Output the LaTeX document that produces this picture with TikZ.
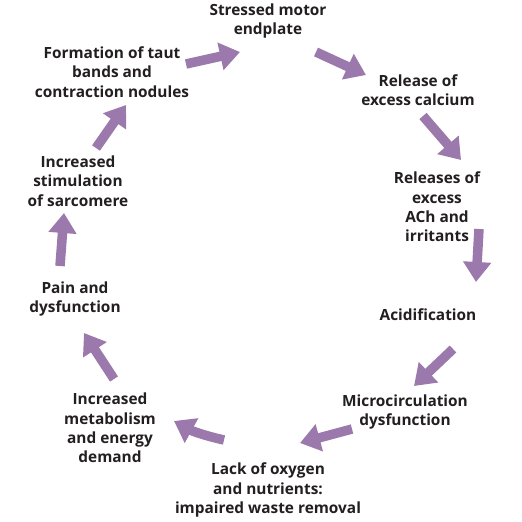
\documentclass[tikz,border=0pt]{standalone}
\usepackage{fontspec}
\setmainfont{Open Sans}
\usetikzlibrary{arrows.meta}
\definecolor{arr}{RGB}{155,121,172}
\definecolor{txt}{RGB}{35,31,32}
\tikzset{
  lbl/.style={align=center, font=\bfseries\fontsize{15.4}{19.3}\selectfont, text=txt, inner sep=0pt},
  bigarrow/.style={draw=arr, line width=9.5pt, -{Triangle[length=20pt, width=27pt]}}
}
\begin{document}
\begin{tikzpicture}[x=1pt,y=-1pt]
\useasboundingbox[fill=white] (0,0) rectangle (522,522);
% labels
\node[lbl] (n1) at (268,21) {Stressed motor\\endplate};
\node[lbl] (n2) at (418,90) {Release of\\excess calcium};
\node[lbl] (n3) at (437,207) {Releases of\\excess\\ACh and\\irritants};
\node[lbl] (n4) at (428,315) {Acidification};
\node[lbl] (n5) at (405,412) {Microcirculation\\dysfunction};
\node[lbl] (n6) at (268,490) {Lack of oxygen\\and nutrients:\\impaired waste removal};
\node[lbl] (n7) at (110,428) {Increased\\metabolism\\and energy\\demand};
\node[lbl] (n8) at (75,299) {Pain and\\dysfunction};
\node[lbl] (n9) at (78,181) {Increased\\stimulation\\of sarcomere};
\node[lbl] (n10) at (112,72) {Formation of taut\\bands and\\contraction nodules};
% arrow ends
\coordinate (a1s) at (186,64);  \coordinate (a1e) at (240,52);
\coordinate (a2s) at (316,52);  \coordinate (a2e) at (366,75);
\coordinate (a3s) at (423,116); \coordinate (a3e) at (461,160);
\coordinate (a4s) at (479,229); \coordinate (a4e) at (476,282);
\coordinate (a5s) at (453,349); \coordinate (a5e) at (414,386);
\coordinate (a6s) at (352,429); \coordinate (a6e) at (300,443);
\coordinate (a7s) at (224,440); \coordinate (a7e) at (174,421);
\coordinate (a8s) at (114,379); \coordinate (a8e) at (84,333);
\coordinate (a9s) at (60,266);  \coordinate (a9e) at (64,213);
\coordinate (a10s) at (96,148); \coordinate (a10e) at (126,105);
\draw[bigarrow] (a1s) -- (a1e);
\draw[bigarrow] (a2s) -- (a2e);
\draw[bigarrow] (a3s) -- (a3e);
\draw[bigarrow] (a4s) -- (a4e);
\draw[bigarrow] (a5s) -- (a5e);
\draw[bigarrow] (a6s) -- (a6e);
\draw[bigarrow] (a7s) to[bend left=8] (a7e);
\draw[bigarrow] (a8s) -- (a8e);
\draw[bigarrow] (a9s) -- (a9e);
\draw[bigarrow] (a10s) -- (a10e);
\end{tikzpicture}
\end{document}
